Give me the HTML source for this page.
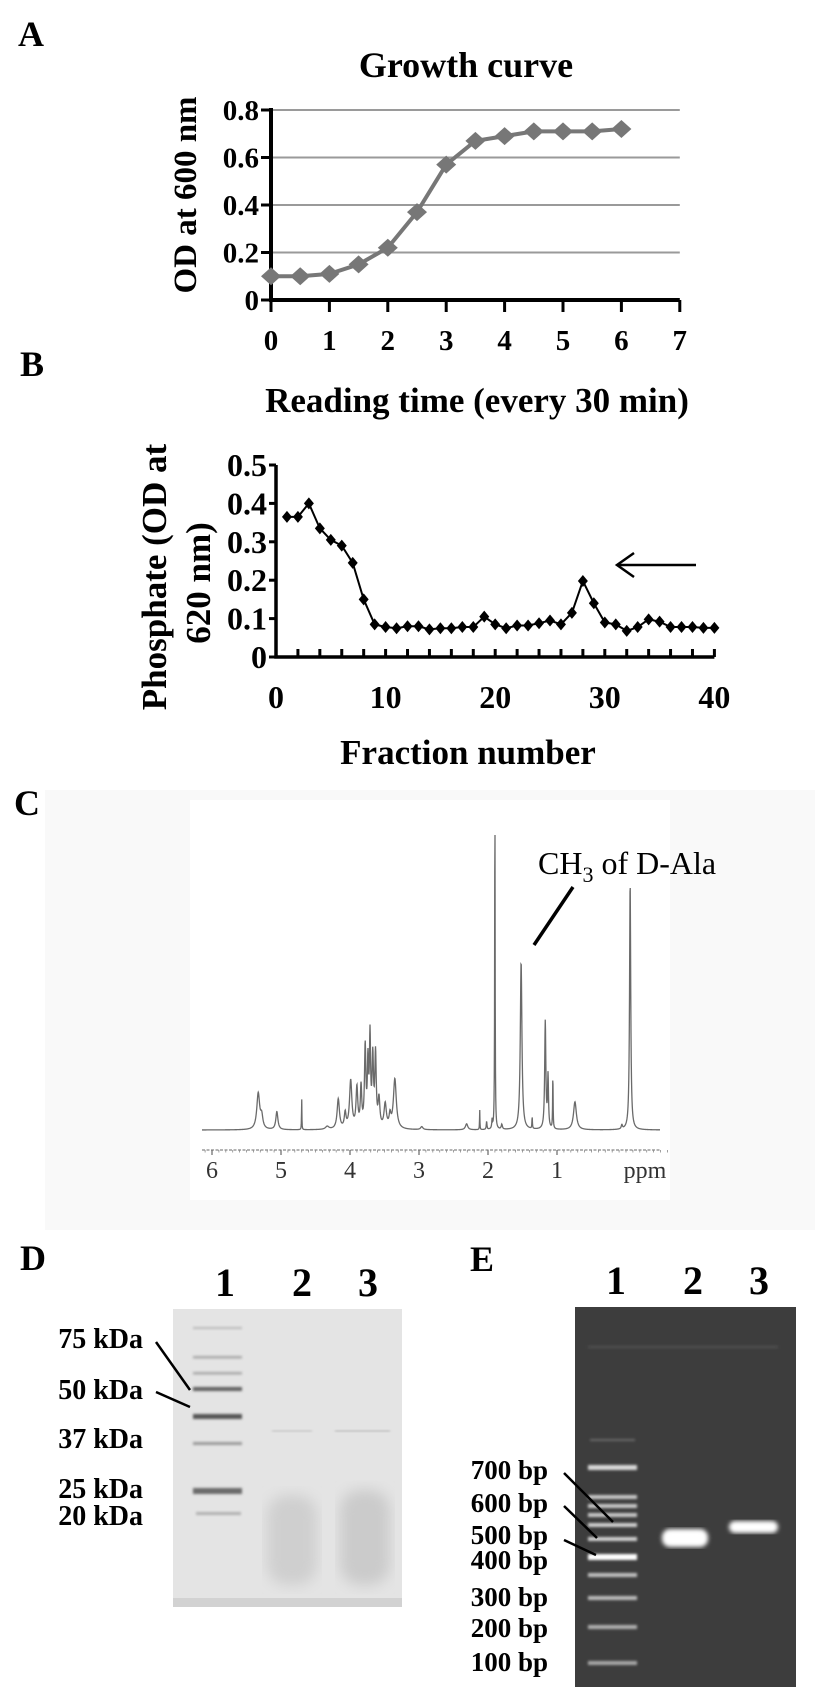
<!DOCTYPE html>
<html><head><meta charset="utf-8"><style>
html,body{margin:0;padding:0;background:#fff;}
svg{display:block;font-family:"Liberation Serif",serif;}
.b{font-weight:bold;}
</style></head><body>
<svg id="fig" width="831" height="1704" viewBox="0 0 831 1704" xmlns="http://www.w3.org/2000/svg">
<defs>
<filter id="blur1"><feGaussianBlur stdDeviation="1.2"/></filter>
<filter id="blur2"><feGaussianBlur stdDeviation="2"/></filter>
<filter id="blur6"><feGaussianBlur stdDeviation="7"/></filter>
</defs>
<rect x="0" y="0" width="831" height="1704" fill="#ffffff"/>
<rect x="45" y="790" width="770" height="440" fill="#f9f9f9"/>
<rect x="190" y="800" width="480" height="400" fill="#ffffff"/>

<!-- panel letters -->
<text x="18" y="46" font-size="36" class="b">A</text>
<text x="20" y="376" font-size="36" class="b">B</text>
<text x="14" y="815" font-size="36" class="b">C</text>
<text x="20" y="1270" font-size="36" class="b">D</text>
<text x="470" y="1271" font-size="36" class="b">E</text>

<!-- Panel A -->
<g id="chartA">
<text x="466" y="77" font-size="36" class="b" text-anchor="middle">Growth curve</text>
<text transform="translate(196,195) rotate(-90)" font-size="33" class="b" text-anchor="middle">OD at 600 nm</text>
<text x="477" y="412" font-size="35" class="b" text-anchor="middle">Reading time (every 30 min)</text>
</g>

<!-- Panel B -->
<g id="chartB">
<text transform="translate(166,577) rotate(-90)" font-size="35" class="b" text-anchor="middle">Phosphate (OD at</text>
<text transform="translate(210,583) rotate(-90)" font-size="35" class="b" text-anchor="middle">620 nm)</text>
<text x="468" y="764" font-size="35" class="b" text-anchor="middle">Fraction number</text>
<g stroke="#000" stroke-width="2.5" fill="none">
<line x1="696" y1="565" x2="617" y2="565"/>
<polyline points="634,553 617,565 634,577"/>
</g>
</g>

<!-- Panel C -->
<g id="chartC">
<text x="538" y="874" font-size="32">CH<tspan font-size="22" dy="8">3</tspan><tspan dy="-8"> of D-Ala</tspan></text>
<line x1="573" y1="887" x2="534" y2="945" stroke="#000" stroke-width="3.5"/>
<text x="645" y="1178" font-size="24" fill="#333" text-anchor="middle">ppm</text>
</g>

<!-- Panel D gel -->
<g>
<text x="225" y="1296" font-size="40" class="b" text-anchor="middle">1</text>
<text x="302" y="1296" font-size="40" class="b" text-anchor="middle">2</text>
<text x="368" y="1296" font-size="40" class="b" text-anchor="middle">3</text>
<rect x="173" y="1309" width="229" height="298" fill="#e4e4e4"/>
<rect x="173" y="1598" width="229" height="9" fill="#d2d2d2"/>
<g filter="url(#blur1)">
<rect x="193" y="1327" width="49" height="2" fill="#b8b8b8"/>
<rect x="193" y="1356" width="49" height="2.5" fill="#a8a8a8"/>
<rect x="193" y="1372" width="49" height="2.5" fill="#a8a8a8"/>
<rect x="193" y="1387" width="49" height="4" fill="#606060"/>
<rect x="193" y="1414" width="49" height="5" fill="#555"/>
<rect x="193" y="1442" width="49" height="3" fill="#9a9a9a"/>
<rect x="193" y="1488" width="49" height="6" fill="#6a6a6a"/>
<rect x="196" y="1512" width="45" height="3" fill="#b0b0b0"/>
</g>
<rect x="272" y="1430" width="40" height="2" fill="#c8c8c8" filter="url(#blur1)"/>
<rect x="335" y="1430" width="55" height="2" fill="#c0c0c0" filter="url(#blur1)"/>
<rect x="267" y="1495" width="50" height="90" rx="20" fill="#cfcfcf" filter="url(#blur6)"/>
<rect x="340" y="1490" width="50" height="95" rx="20" fill="#cbcbcb" filter="url(#blur6)"/>
<g font-size="28" class="b" text-anchor="end">
<text x="143" y="1348">75 kDa</text>
<text x="143" y="1399">50 kDa</text>
<text x="143" y="1448">37 kDa</text>
<text x="143" y="1498">25 kDa</text>
<text x="143" y="1525">20 kDa</text>
</g>
<line x1="156" y1="1342" x2="190" y2="1390" stroke="#000" stroke-width="2.5"/>
<line x1="156" y1="1392" x2="190" y2="1407" stroke="#000" stroke-width="2.5"/>
</g>

<!-- Panel E gel -->
<g>
<text x="616" y="1294" font-size="40" class="b" text-anchor="middle">1</text>
<text x="693" y="1294" font-size="40" class="b" text-anchor="middle">2</text>
<text x="759" y="1294" font-size="40" class="b" text-anchor="middle">3</text>
<rect x="575" y="1307" width="221" height="380" fill="#3d3d3d"/>
<rect x="588" y="1345" width="190" height="4" fill="#4a4a4a" filter="url(#blur1)"/>
<g filter="url(#blur1)">
<rect x="590" y="1439" width="45" height="2" fill="#6a6a6a"/>
<rect x="588" y="1465" width="49" height="5" fill="#d8d8d8"/>
<rect x="588" y="1495" width="49" height="4" fill="#c8c8c8"/>
<rect x="588" y="1504" width="49" height="4" fill="#c8c8c8"/>
<rect x="588" y="1513" width="49" height="4" fill="#c8c8c8"/>
<rect x="588" y="1523" width="49" height="4" fill="#d0d0d0"/>
<rect x="588" y="1537" width="49" height="4" fill="#d0d0d0"/>
<rect x="588" y="1554" width="49" height="6" fill="#ffffff"/>
<rect x="588" y="1573" width="49" height="4" fill="#c0c0c0"/>
<rect x="588" y="1596" width="49" height="4" fill="#bcbcbc"/>
<rect x="588" y="1625" width="49" height="4" fill="#b0b0b0"/>
<rect x="588" y="1661" width="49" height="4" fill="#a8a8a8"/>
</g>
<rect x="662" y="1529" width="46" height="18" rx="8" fill="#fff" filter="url(#blur2)"/>
<rect x="729" y="1521" width="49" height="12" rx="6" fill="#fff" filter="url(#blur2)"/>
<g font-size="27" class="b" text-anchor="end">
<text x="548" y="1479">700 bp</text>
<text x="548" y="1512">600 bp</text>
<text x="548" y="1544">500 bp</text>
<text x="548" y="1569">400 bp</text>
<text x="548" y="1606">300 bp</text>
<text x="548" y="1637">200 bp</text>
<text x="548" y="1671">100 bp</text>
</g>
<line x1="564" y1="1473" x2="613" y2="1522" stroke="#000" stroke-width="2.5"/>
<line x1="564" y1="1506" x2="597" y2="1538" stroke="#000" stroke-width="2.5"/>
<line x1="564" y1="1540" x2="596" y2="1555" stroke="#000" stroke-width="2.5"/>
</g>
</svg>
<script>
// ---------- Panel A data ----------
const growthTimes = [0,0.5,1,1.5,2,2.5,3,3.5,4,4.5,5,5.5,6];
const growthOD = [0.10,0.10,0.11,0.15,0.22,0.37,0.57,0.67,0.69,0.71,0.71,0.71,0.72];
const growthXTicks = [0,1,2,3,4,5,6,7];
const growthYTicks = [0,0.2,0.4,0.6,0.8];
const growthYLabels = ["0","0.2","0.4","0.6","0.8"];
// ---------- Panel B data ----------
const fractionNumbers = [1,2,3,4,5,6,7,8,9,10,11,12,13,14,15,16,17,18,19,20,21,22,23,24,25,26,27,28,29,30,31,32,33,34,35,36,37,38,39,40];
const phosphateOD = [0.365,0.365,0.40,0.335,0.305,0.29,0.245,0.15,0.085,0.078,0.075,0.08,0.08,0.072,0.075,0.075,0.078,0.078,0.105,0.085,0.075,0.082,0.082,0.088,0.095,0.085,0.115,0.198,0.14,0.09,0.085,0.068,0.078,0.098,0.092,0.078,0.078,0.078,0.076,0.076];
const fractionTicks = [0,10,20,30,40];
const phosphateYTicks = [0,0.1,0.2,0.3,0.4,0.5];
const phosphateYLabels = ["0","0.1","0.2","0.3","0.4","0.5"];
// ---------- Panel C data ----------
const nmrPpm = [5.33,5.28,5.06,4.70,4.33,4.17,4.07,3.99,3.90,3.84,3.78,3.74,3.71,3.67,3.63,3.58,3.49,3.42,3.35,2.96,2.31,2.12,2.02,1.94,1.90,1.80,1.52,1.36,1.17,1.13,1.06,0.74,0.06,-0.06];
const nmrHeight = [36,12,18,32,3,30,15,48,40,40,80,62,88,68,72,28,24,12,50,3,6,20,8,9,333,5,168,12,108,52,55,28,4,248];
const nmrWidth = [0.025,0.02,0.018,0.003,0.03,0.02,0.015,0.02,0.015,0.012,0.012,0.01,0.01,0.012,0.012,0.015,0.02,0.015,0.025,0.02,0.02,0.003,0.006,0.006,0.004,0.01,0.014,0.004,0.01,0.008,0.004,0.025,0.01,0.01];
const ppmTicks = [6,5,4,3,2,1];

const NS = "http://www.w3.org/2000/svg";
const svg = document.getElementById("fig");
function mk(tag, attrs, parent){ const e=document.createElementNS(NS,tag); for(const k in attrs) e.setAttribute(k,attrs[k]); (parent||svg).appendChild(e); return e; }

// ---------- Panel A ----------
const gA = document.getElementById("chartA");
const xA = t => 271 + t*58.4;
const yA = v => 300 - v*237.5;
growthYTicks.forEach((v,i)=>{
  if(v>0){ const g=mk("line",{x1:xA(0),x2:xA(7),y1:yA(v),y2:yA(v),stroke:"#9a9a9a","stroke-width":2},gA);
    
     }
  const tk=mk("line",{x1:xA(0)-10,x2:xA(0),y1:yA(v),y2:yA(v),stroke:"#000","stroke-width":3},gA);
  
  
  const t=mk("text",{x:xA(0)-12,y:yA(v)+10,"font-size":29,"font-weight":"bold","text-anchor":"end"},gA);
  t.textContent=growthYLabels[i];
  
  
});
growthXTicks.forEach(v=>{
  const tk=mk("line",{x1:xA(v),x2:xA(v),y1:yA(0),y2:yA(0)+12,stroke:"#000","stroke-width":3},gA);
  
  
  const t=mk("text",{x:xA(v),y:350,"font-size":29,"font-weight":"bold","text-anchor":"middle"},gA);
  t.textContent=v;
  
  
});
const axA=mk("path",{d:`M${xA(0)},${yA(0.8)-2} V${yA(0)} H${xA(7)}`,stroke:"#000","stroke-width":4,fill:"none"},gA);


const lineA=mk("polyline",{points:growthTimes.map((t,i)=>xA(t)+","+yA(growthOD[i])).join(" "),stroke:"#777","stroke-width":4,fill:"none"},gA);


growthTimes.forEach((t,i)=>{
  const cx=xA(t), cy=yA(growthOD[i]);
  const d=mk("polygon",{points:`${cx},${cy-9} ${cx+10},${cy} ${cx},${cy+9} ${cx-10},${cy}`,fill:"#777"},gA);
  
  
});

// ---------- Panel B ----------
const gB = document.getElementById("chartB");
const xB = f => 276 + f*10.96;
const yB = v => 657 - v*384;
phosphateYTicks.forEach((v,i)=>{
  const tk=mk("line",{x1:xB(0)-7,x2:xB(0),y1:yB(v),y2:yB(v),stroke:"#000","stroke-width":3},gB);
  
  
  const t=mk("text",{x:xB(0)-9,y:yB(v)+11,"font-size":32,"font-weight":"bold","text-anchor":"end"},gB);
  t.textContent=phosphateYLabels[i];
  
  
});
for(let f=2; f<=40; f+=2){
  const tk=mk("line",{x1:xB(f),x2:xB(f),y1:yB(0),y2:yB(0)-8,stroke:"#000","stroke-width":3},gB);
  
  
}
fractionTicks.forEach(v=>{
  const t=mk("text",{x:xB(v),y:708,"font-size":32,"font-weight":"bold","text-anchor":"middle"},gB);
  t.textContent=v;
  
  
});
const axB=mk("path",{d:`M${xB(0)},${yB(0.5)} V${yB(0)} H${xB(40)}`,stroke:"#000","stroke-width":3.5,fill:"none"},gB);


const lineB=mk("polyline",{points:fractionNumbers.map((f,i)=>xB(f)+","+yB(phosphateOD[i])).join(" "),stroke:"#000","stroke-width":2,fill:"none"},gB);


fractionNumbers.forEach((f,i)=>{
  const cx=xB(f), cy=yB(phosphateOD[i]);
  const d=mk("polygon",{points:`${cx},${cy-6} ${cx+5},${cy} ${cx},${cy+6} ${cx-5},${cy}`,fill:"#000"},gB);
  
  
});

// ---------- Panel C ----------
const gC = document.getElementById("chartC");
const xC = p => 212 + (6-p)*69;
const yC = I => 1130 - I;
let pts=[];
for(let x=202; x<=660; x+=0.25){
  const p = 6-(x-212)/69;
  let I=0;
  for(let k=0;k<nmrPpm.length;k++){ const w=nmrWidth[k]; const dd=(p-nmrPpm[k])/w; I+=nmrHeight[k]/(1+dd*dd); }
  pts.push(x.toFixed(2)+","+yC(I).toFixed(2));
}
const spec=mk("polyline",{points:pts.join(" "),stroke:"#6a6a6a","stroke-width":1.3,fill:"none"},gC);


const axC=mk("line",{x1:202,x2:660,y1:1150,y2:1150,stroke:"#888","stroke-width":1.2,"stroke-dasharray":"3,1.5"},gC);


for(let p=6.1; p>=-0.6; p-=0.1){
  const tk=mk("line",{x1:xC(p),x2:xC(p),y1:1150,y2:1152.5,stroke:"#888","stroke-width":0.8},gC);
  
  
}
ppmTicks.forEach(v=>{
  const tk=mk("line",{x1:xC(v),x2:xC(v),y1:1150,y2:1155,stroke:"#666","stroke-width":1.2},gC);
  
  
  const t=mk("text",{x:xC(v),y:1178,"font-size":24,fill:"#333","text-anchor":"middle"},gC);
  t.textContent=v;
  
  
});
</script>
</body></html>
